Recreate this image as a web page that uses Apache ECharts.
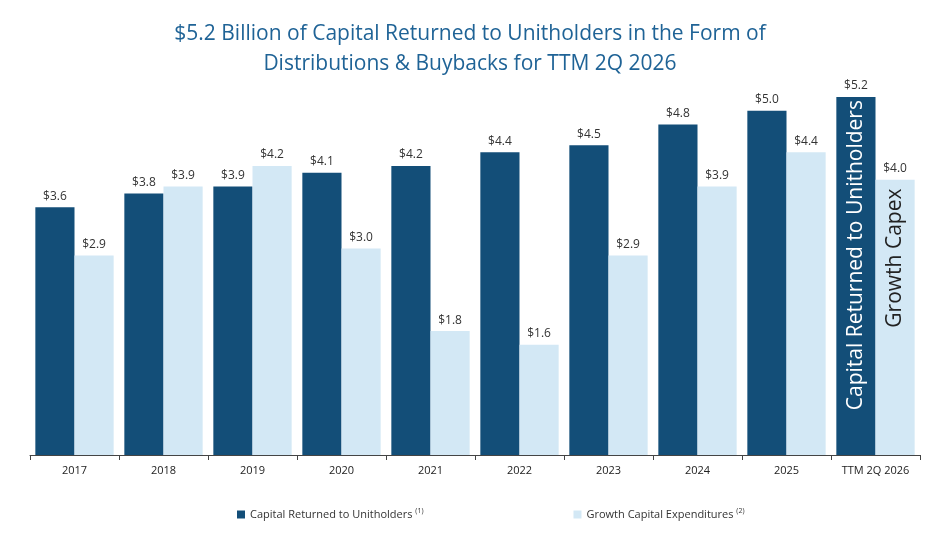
<!DOCTYPE html>
<html>
<head>
<meta charset="utf-8">
<script src="https://cdn.jsdelivr.net/npm/echarts@6/dist/echarts.min.js"></script>
<style>html,body{margin:0;padding:0;background:#fff}#main{width:940px;height:537px}</style>
</head>
<body>
<div id="main"></div>
<script>
let categories = ['2017','2018','2019','2020','2021','2022','2023','2024','2025','TTM 2Q 2026']
let capitalReturned = [3.6,3.8,3.9,4.1,4.2,4.4,4.5,4.8,5.0,5.2]
let growthCapex = [2.9,3.9,4.2,3.0,1.8,1.6,2.9,3.9,4.4,4.0]

let darkColor = '#134e78'
let lightColor = '#d3e8f5'
let fontFamily = '"Open Sans", "Liberation Sans", sans-serif'

let valueLabel = {
  show: true,
  position: 'top',
  distance: 5,
  color: '#333',
  fontSize: 12,
  fontFamily: fontFamily,
  formatter: p => '$' + p.value.toFixed(1)
}

//柱内竖排文字
function inBarText(text, y, color){
  return {
    symbol: 'rect',
    symbolSize: 1,
    itemStyle: {color: 'rgba(0,0,0,0)'},
    data: [{
      coord: ['TTM 2Q 2026', y],
      label: {
        show: true,
        position: 'inside',
        rotate: 90,
        align: 'left',
        verticalAlign: 'middle',
        formatter: text,
        color: color,
        fontSize: 21,
        fontFamily: fontFamily
      }
    }]
  }
}

let option = {
  animation: false,
  title: {
    text: '$5.2 Billion of Capital Returned to Unitholders in the Form of\nDistributions & Buybacks for TTM 2Q 2026',
    left: 'center',
    top: 14,
    textStyle: {color: '#1f6396', fontSize: 21, fontWeight: 'normal', fontFamily: fontFamily, lineHeight: 30}
  },
  legend: {
    bottom: 12,
    left: 232,
    itemGap: 150,
    itemWidth: 8,
    itemHeight: 8,
    icon: 'rect',
    textStyle: {
      fontSize: 11, color: '#333', fontFamily: fontFamily,
      rich: {sup: {fontSize: 7, verticalAlign: 'top', padding: [0,0,8,0], color: '#333'}}
    },
    formatter: name => name === 'Capital Returned to Unitholders'
      ? name + ' {sup|(1)}' : name + ' {sup|(2)}'
  },
  grid: {left: 30, right: 20, top: 42, bottom: 82},
  xAxis: {
    type: 'category',
    data: categories,
    axisLine: {lineStyle: {color: '#444'}},
    axisTick: {show: true, length: 5, lineStyle: {color: '#444'}},
    axisLabel: {color: '#222', fontSize: 11, fontFamily: fontFamily, margin: 10}
  },
  yAxis: {type: 'value', min: 0, max: 6, show: false, splitLine: {show: false}},
  series: [
    {
      name: 'Capital Returned to Unitholders',
      type: 'bar',
      data: capitalReturned,
      itemStyle: {color: darkColor},
      barGap: '0%',
      barCategoryGap: '12%',
      label: valueLabel,
      markPoint: inBarText('Capital Returned to Unitholders', 0.65, '#fff')
    },
    {
      name: 'Growth Capital Expenditures',
      type: 'bar',
      data: growthCapex,
      itemStyle: {color: lightColor},
      label: valueLabel,
      markPoint: inBarText('Growth Capex', 1.85, '#222')
    }
  ]
}

let myChart = echarts.init(document.getElementById('main'))
myChart.setOption(option)
window.onresize = myChart.resize
</script>
</body>
</html>
